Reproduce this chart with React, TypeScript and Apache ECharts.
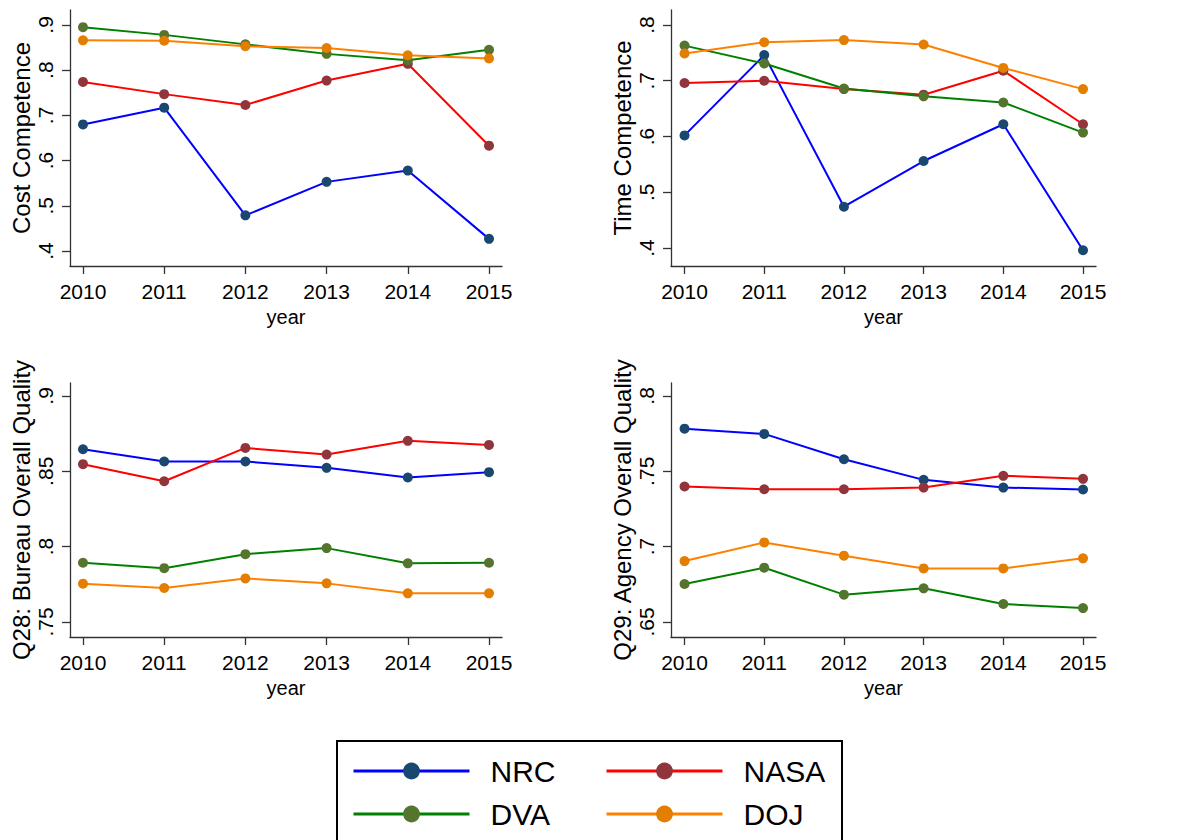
import React, { useEffect, useRef } from 'react';
import * as echarts from 'echarts';

const years = [2010, 2011, 2012, 2013, 2014, 2015];
const agencies = ['NRC', 'NASA', 'DVA', 'DOJ'];

// Cost Competence
const costNRC = [0.68, 0.717, 0.479, 0.553, 0.578, 0.427];
const costNASA = [0.774, 0.747, 0.723, 0.777, 0.814, 0.633];
const costDVA = [0.895, 0.878, 0.857, 0.836, 0.822, 0.845];
const costDOJ = [0.866, 0.865, 0.853, 0.849, 0.833, 0.826];
const costTicks = [0.4, 0.5, 0.6, 0.7, 0.8, 0.9];

// Time Competence
const timeNRC = [0.602, 0.746, 0.474, 0.556, 0.622, 0.396];
const timeNASA = [0.696, 0.7, 0.685, 0.675, 0.718, 0.622];
const timeDVA = [0.763, 0.731, 0.686, 0.672, 0.661, 0.607];
const timeDOJ = [0.749, 0.769, 0.773, 0.765, 0.723, 0.685];
const timeTicks = [0.4, 0.5, 0.6, 0.7, 0.8];

// Q28: Bureau Overall Quality
const q28NRC = [0.8646, 0.8565, 0.8565, 0.8523, 0.8459, 0.8494];
const q28NASA = [0.8547, 0.8434, 0.8655, 0.8611, 0.8702, 0.8675];
const q28DVA = [0.7893, 0.7857, 0.795, 0.799, 0.7889, 0.7893];
const q28DOJ = [0.7754, 0.7725, 0.7789, 0.7756, 0.769, 0.769];
const q28Ticks = [0.75, 0.8, 0.85, 0.9];

// Q29: Agency Overall Quality
const q29NRC = [0.7783, 0.7748, 0.758, 0.7443, 0.7392, 0.7379];
const q29NASA = [0.7399, 0.7381, 0.7381, 0.7392, 0.747, 0.745];
const q29DVA = [0.6752, 0.686, 0.6681, 0.6723, 0.6619, 0.6592];
const q29DOJ = [0.6904, 0.7028, 0.694, 0.6855, 0.6855, 0.6922];
const q29Ticks = [0.65, 0.7, 0.75, 0.8];

const lineColors: Record<string, string> = { NRC: '#0000ff', NASA: '#ff0000', DVA: '#008000', DOJ: '#ff8000' };
const markerColors: Record<string, string> = { NRC: '#1a476f', NASA: '#90353b', DVA: '#55752f', DOJ: '#e37e00' };

const FONT = '"Liberation Sans", Arial, sans-serif';

const panels = [
  { title: 'Cost Competence', ticks: costTicks, min: 0.367, max: 0.933, series: [costNRC, costNASA, costDVA, costDOJ],
    grid: { left: 70, top: 10, width: 432, height: 256 }, xMin: 2009.84, xMax: 2015.16 },
  { title: 'Time Competence', ticks: timeTicks, min: 0.3677, max: 0.8269, series: [timeNRC, timeNASA, timeDVA, timeDOJ],
    grid: { left: 671, top: 10, width: 425, height: 256 }, xMin: 2009.83, xMax: 2015.163 },
  { title: 'Q28: Bureau Overall Quality', ticks: q28Ticks, min: 0.74, max: 0.9086, series: [q28NRC, q28NASA, q28DVA, q28DOJ],
    grid: { left: 70, top: 383, width: 432, height: 254 }, xMin: 2009.84, xMax: 2015.16 },
  { title: 'Q29: Agency Overall Quality', ticks: q29Ticks, min: 0.64, max: 0.8086, series: [q29NRC, q29NASA, q29DVA, q29DOJ],
    grid: { left: 671, top: 383, width: 425, height: 254 }, xMin: 2009.83, xMax: 2015.163 },
];

const fmtY = (v: number) => String(Math.round(v * 100) / 100).replace(/^0/, '');

export default function App() {
  const ref = useRef<HTMLDivElement>(null);
  useEffect(() => {
    if (!ref.current) return;
    const chart = echarts.init(ref.current, null, { renderer: 'svg' });
    const axisLineStyle = { color: '#333', width: 1.3 };
    const option: any = {
      animation: false,
      backgroundColor: '#fff',
      textStyle: { fontFamily: FONT },
      grid: panels.map((p) => ({ ...p.grid, outerBoundsMode: 'none', containLabel: false })),
      xAxis: panels.map((p, i) => ({
        type: 'value', gridIndex: i, min: p.xMin, max: p.xMax,
        name: 'year', nameLocation: 'middle', nameGap: 41,
        nameTextStyle: { fontSize: 20, color: '#000', fontFamily: FONT },
        nameMoveOverlap: false,
        axisLine: { show: true, lineStyle: axisLineStyle },
        axisTick: { show: true, length: 8, customValues: years, lineStyle: axisLineStyle },
        axisLabel: { customValues: years, fontSize: 21, color: '#000', margin: 15, fontFamily: FONT, formatter: (v: number) => String(v) },
        splitLine: { show: false },
      })),
      yAxis: panels.map((p, i) => ({
        type: 'value', gridIndex: i, min: p.min, max: p.max,
        name: p.title, nameLocation: 'middle', nameGap: 37,
        nameTextStyle: { fontSize: 24, color: '#000', fontFamily: FONT },
        nameMoveOverlap: false,
        axisLine: { show: true, lineStyle: axisLineStyle },
        axisTick: { show: true, length: 8, customValues: p.ticks, lineStyle: axisLineStyle },
        axisLabel: { customValues: p.ticks, rotate: 90, fontSize: 21, color: '#000', margin: 14, fontFamily: FONT, formatter: fmtY },
        splitLine: { show: false },
      })),
      legend: agencies.map((a, k) => ({
        data: [a],
        left: [352, 605, 352, 605][k],
        top: [756, 756, 799, 799][k],
        padding: 0,
        itemWidth: 116,
        itemHeight: 21,
        selectedMode: false,
        lineStyle: { width: 3 },
        textStyle: { fontSize: 30, color: '#000', fontFamily: FONT, padding: [0, 0, 0, 16] },
      })),
      graphic: [
        { type: 'rect', shape: { x: 337, y: 741, width: 505, height: 130 }, style: { fill: 'none', stroke: '#000', lineWidth: 2 }, silent: true },
      ],
      series: panels.flatMap((p, i) =>
        agencies.map((a, k) => ({
          type: 'line', name: a, xAxisIndex: i, yAxisIndex: i,
          data: years.map((y, j) => [y, p.series[k][j]]),
          symbol: 'circle', symbolSize: 10, showSymbol: true,
          lineStyle: { color: lineColors[a], width: 2 },
          itemStyle: { color: markerColors[a] },
          emphasis: { disabled: true },
        }))
      ),
    };
    chart.setOption(option);
    return () => chart.dispose();
  }, []);
  return <div ref={ref} style={{ position: 'absolute', left: 0, top: 0, width: 1189, height: 840 }} />;
}
